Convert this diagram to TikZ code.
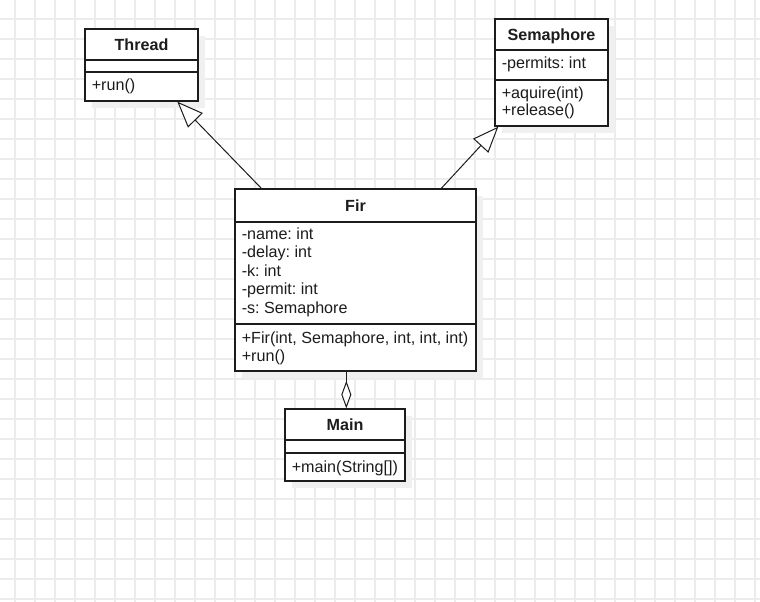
\documentclass[tikz,border=0pt]{standalone}
\usepackage{fontspec}
\setmainfont{Liberation Sans}
\usetikzlibrary{arrows.meta,fit,shadows}
\definecolor{gridc}{RGB}{236,236,236}
\definecolor{shc}{RGB}{240,240,240}
\definecolor{ink}{RGB}{28,28,28}
\frenchspacing
\begin{document}
\frenchspacing
\begin{tikzpicture}[x=0.75pt,y=-0.75pt,
  font=\fontsize{12.1}{14}\selectfont,
  gridline/.style={draw=gridc, line width=1pt},
  classbox/.style={draw=ink, line width=1pt, fill=white, inner sep=0pt,
    drop shadow={shadow xshift=5pt, shadow yshift=-5pt, fill=shc, opacity=1}},
  sepline/.style={draw=ink, line width=1pt},
  ctitle/.style={anchor=base, inner sep=0pt, font=\fontsize{12.1}{14}\selectfont\bfseries, text=ink},
  member/.style={anchor=base west, inner sep=0pt, text=ink},
  conn/.style={draw=ink, line width=0.75pt},
  gen/.style={conn, -{Triangle[open, length=19.5pt, width=15.5pt, fill=white]}},
  agg/.style={conn, -{Diamond[open, length=20.6pt, width=7.5pt, fill=white]}}
]
\useasboundingbox (0,0) rectangle (760,602);
\fill[white] (0,0) rectangle (760,602);
\foreach \gx in {15,35,...,755} \draw[gridline] (\gx,0) -- (\gx,602);
\foreach \gy in {19,39,...,599} \draw[gridline] (0,\gy) -- (760,\gy);

% Thread
\node[classbox, fit={(85,29) (198,101)}] (thread) {};
\draw[sepline] (thread.west |- 0,60) -- (thread.east |- 0,60);
\draw[sepline] (thread.west |- 0,72) -- (thread.east |- 0,72);
\node[ctitle] (threadT) at (141.5,50.2) {Thread};
\node[member] (threadM1) at (91.5,91) {+run()};

% Semaphore
\node[classbox, fit={(495,19) (608,126)}] (sem) {};
\draw[sepline] (sem.west |- 0,50) -- (sem.east |- 0,50);
\draw[sepline] (sem.west |- 0,80) -- (sem.east |- 0,80);
\node[ctitle] (semT) at (551.5,40.2) {Semaphore};
\node[member] (semA1) at (501.5,69) {-permits: int};
\node[member] (semM1) at (501.5,98.5) {+aquire(int)};
\node[member] (semM2) at (501.5,116) {+release()};

% Fir
\node[classbox, fit={(235,189) (476,371)}] (fir) {};
\draw[sepline] (fir.west |- 0,222) -- (fir.east |- 0,222);
\draw[sepline] (fir.west |- 0,324) -- (fir.east |- 0,324);
\node[ctitle] (firT) at (355.5,211.2) {Fir};
\node[member] (firA1) at (241.5,239.2) {-name: int};
\node[member] (firA2) at (241.5,257.7) {-delay: int};
\node[member] (firA3) at (241.5,276.2) {-k: int};
\node[member] (firA4) at (241.5,294.7) {-permit: int};
\node[member] (firA5) at (241.5,313.2) {-s: Semaphore};
\node[member] (firM1) at (241.5,343) {+Fir(int, Semaphore, int, int, int)};
\node[member] (firM2) at (241.5,361.5) {+run()};

% Main
\node[classbox, fit={(285,409) (405,481)}] (main) {};
\draw[sepline] (main.west |- 0,440) -- (main.east |- 0,440);
\draw[sepline] (main.west |- 0,453) -- (main.east |- 0,453);
\node[ctitle] (mainT) at (345,430.2) {Main};
\node[member] (mainM1) at (291.5,472) {+main(String[])};

% connectors
\draw[gen] ([xshift=20.25pt]fir.north west) -- ([xshift=69.75pt]thread.south west);
\draw[gen] ([xshift=155.25pt]fir.north west) -- ([xshift=3pt]sem.south west);
\draw[agg] ([xshift=84pt]fir.south west) -- ([xshift=46.5pt]main.north west);
\end{tikzpicture}
\end{document}
